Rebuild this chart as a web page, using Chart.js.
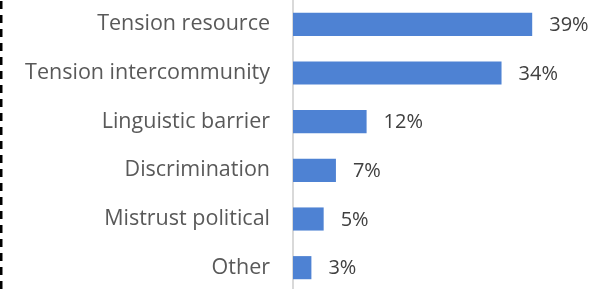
<!DOCTYPE html>
<html>
<head>
<meta charset="utf-8">
<script src="https://cdn.jsdelivr.net/npm/chart.js@4.4.1/dist/chart.umd.min.js"></script>
<style>
  html, body { margin: 0; padding: 0; background: #fff; overflow: hidden; }
  #wrap { position: relative; width: 613px; height: 292px; }
</style>
</head>
<body>
<div id="wrap"><canvas id="chart"></canvas></div>
<script>
const categories = ['Tension resource', 'Tension intercommunity', 'Linguistic barrier', 'Discrimination', 'Mistrust political', 'Other'];
const values = [39, 34, 12, 7, 5, 3];

// value labels at the end of each bar
const valueLabels = {
    id: 'valueLabels',
    afterDatasetsDraw(chart) {
        const ctx = chart.ctx;
        const meta = chart.getDatasetMeta(0);
        ctx.save();
        ctx.font = '20px "Open Sans"';
        ctx.fillStyle = '#404040';
        ctx.textAlign = 'left';
        ctx.textBaseline = 'middle';
        meta.data.forEach((bar, i) => {
            ctx.fillText(values[i] + '%', bar.x + 17, bar.y + 1);
        });
        ctx.restore();
    }
};

// dashed frame edge on the left
const leftEdge = {
    id: 'leftEdge',
    afterDraw(chart) {
        const ctx = chart.ctx;
        ctx.save();
        ctx.strokeStyle = '#000';
        ctx.lineWidth = 2.5;
        ctx.setLineDash([8, 6]);
        ctx.beginPath();
        ctx.moveTo(1.25, 1);
        ctx.lineTo(1.25, chart.height);
        ctx.stroke();
        ctx.restore();
    }
};

new Chart(document.getElementById('chart'), {
    type: 'bar',
    data: {
        labels: categories,
        datasets: [{
            data: values,
            backgroundColor: '#4e82d3',
            categoryPercentage: 1,
            barPercentage: 0.475
        }]
    },
    options: {
        indexAxis: 'y',
        responsive: true,
        maintainAspectRatio: false,
        animation: false,
        layout: { padding: { left: 0, right: 44, top: 0, bottom: 0 } },
        plugins: { legend: { display: false }, tooltip: { enabled: false } },
        scales: {
            x: { display: false, min: 0, max: 45 },
            y: {
                grid: { display: false },
                border: { display: true, color: '#d9d9d9', width: 2 },
                ticks: {
                    color: '#595959',
                    font: { family: 'Open Sans', size: 21.5 },
                    padding: 15
                },
                afterFit(scale) {
                    scale.width = 293;
                    scale.paddingTop = 0;
                    scale.paddingBottom = 0;
                }
            }
        }
    },
    plugins: [valueLabels, leftEdge]
});
</script>
</body>
</html>
